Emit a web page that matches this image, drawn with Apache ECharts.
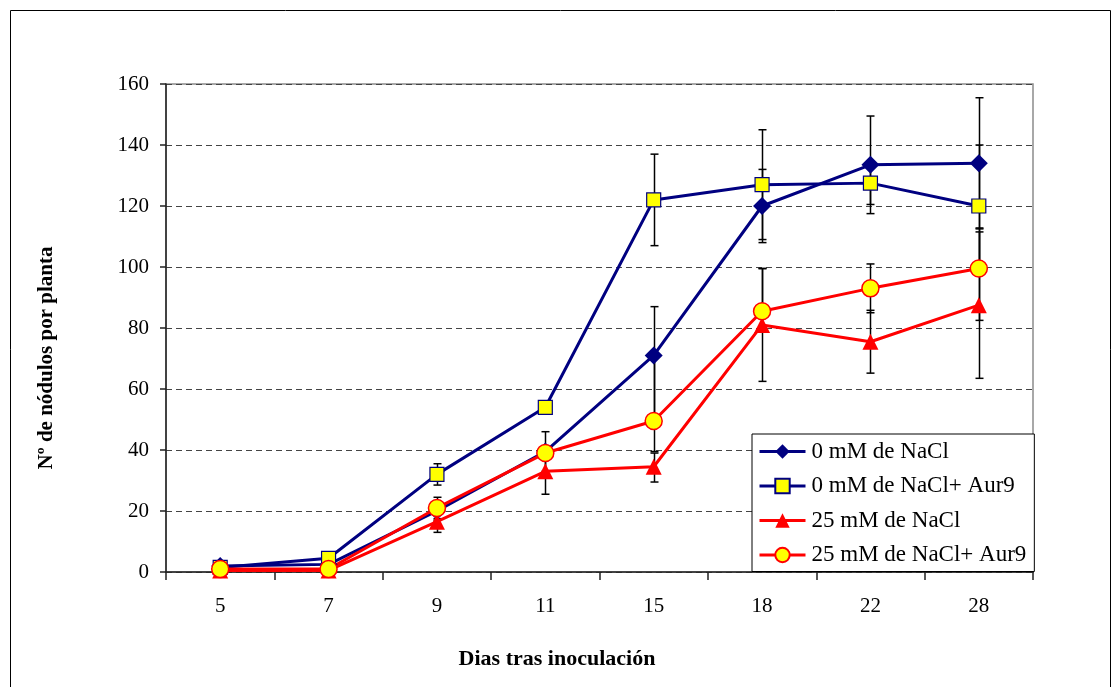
<!DOCTYPE html>
<html>
<head>
<meta charset="utf-8">
<script src="https://cdn.jsdelivr.net/npm/echarts@6/dist/echarts.min.js"></script>
<style>
  html, body { margin: 0; padding: 0; background: #fff; }
  #chart { width: 1114px; height: 687px; }
</style>
</head>
<body>
<div id="chart"></div>
<script>
// Days after inoculation (category axis)
const days = ['5', '7', '9', '11', '15', '18', '22', '28'];

// Mean number of nodules per plant
const nacl0      = [2, 2.5, 20, 39.5, 71, 120, 133.5, 134];
const nacl0Aur9  = [1.5, 4.5, 32, 54, 122, 127, 127.5, 120];
const nacl25     = [0.5, 0.5, 16.5, 33, 34.5, 81, 75.5, 87.5];
const nacl25Aur9 = [1, 1, 21, 39, 49.5, 85.5, 93, 99.5];

// Error bars: extent above (plus) and below (minus) each mean
const nacl0Plus       = [0, 0, 3, 6.5, 16, 12, 16, 21.5];
const nacl0Minus      = [0, 0, 3, 6.5, 21, 12, 16, 21.5];
const nacl0Aur9Plus   = [0, 0, 3.5, 0, 15, 18, 7, 20];
const nacl0Aur9Minus  = [0, 0, 3.5, 0, 15, 18, 7, 20];
const nacl25Plus      = [0, 0, 3.5, 7.5, 4.5, 18.5, 10.3, 24];
const nacl25Minus     = [0, 0, 3.5, 7.5, 5, 18.5, 10.3, 24];
const nacl25Aur9Plus  = [0, 0, 3.5, 0, 21.5, 14, 8, 13.3];
const nacl25Aur9Minus = [0, 0, 3.5, 0, 10, 6.7, 8, 17];

// Series names
const names = ['0 mM de NaCl', '0 mM de NaCl+ Aur9', '25 mM de NaCl', '25 mM de NaCl+ Aur9'];

const FONT = '"Liberation Serif", "Times New Roman", serif';
const NAVY = '#000080';
const RED = '#FF0000';
const YELLOW = '#FFFF00';

function errorBars(id, vals, plus, minus) {
  const data = [];
  vals.forEach((v, i) => {
    if (plus[i] > 0 || minus[i] > 0) data.push([i, v - minus[i], v + plus[i]]);
  });
  return {
    id: id,
    type: 'custom',
    z: 1,
    silent: true,
    encode: { x: 0, y: [1, 2] },
    data: data,
    renderItem: function (params, api) {
      const idx = api.value(0);
      const lo = api.coord([idx, api.value(1)]);
      const hi = api.coord([idx, api.value(2)]);
      const x = Math.round(lo[0]) + 0.5;
      const w = 4;
      const st = { stroke: '#000', lineWidth: 1.5 };
      return {
        type: 'group',
        children: [
          { type: 'line', shape: { x1: x, y1: hi[1], x2: x, y2: lo[1] }, style: st },
          { type: 'line', shape: { x1: x - w, y1: hi[1], x2: x + w, y2: hi[1] }, style: st },
          { type: 'line', shape: { x1: x - w, y1: lo[1], x2: x + w, y2: lo[1] }, style: st }
        ]
      };
    }
  };
}

function lineSeries(name, vals, lineColor, symbol, size, fill, border, bw) {
  return {
    name: name,
    type: 'line',
    z: 3,
    data: vals,
    symbol: symbol,
    symbolSize: size,
    showAllSymbol: true,
    lineStyle: { color: lineColor, width: 3 },
    itemStyle: { color: fill, borderColor: border, borderWidth: bw },
    emphasis: { disabled: true }
  };
}

const chart = echarts.init(document.getElementById('chart'), null, { renderer: 'canvas' });

chart.setOption({
  animation: false,
  backgroundColor: '#fff',
  textStyle: { fontFamily: FONT },
  grid: {
    left: 166, right: 81, top: 84, bottom: 115,
    show: true, borderColor: '#8c8c8c', borderWidth: 1.5, backgroundColor: 'transparent'
  },
  xAxis: {
    type: 'category',
    data: days,
    boundaryGap: true,
    axisLine: { lineStyle: { color: '#222', width: 1.5 } },
    axisTick: { show: true, interval: 0, length: 8, lineStyle: { color: '#222', width: 1.5 } },
    axisLabel: { color: '#000', fontFamily: FONT, fontSize: 21, margin: 24 },
    splitLine: { show: false }
  },
  yAxis: {
    type: 'value',
    min: 0, max: 160, interval: 20,
    axisLine: { show: true, lineStyle: { color: '#222', width: 1.5 } },
    axisTick: { show: true, length: 6, lineStyle: { color: '#222', width: 1.5 } },
    axisLabel: { color: '#000', fontFamily: FONT, fontSize: 21, margin: 17 },
    splitLine: { show: true, lineStyle: { color: '#444', width: 1, type: [6, 4] } }
  },
  legend: {
    data: names,
    orient: 'vertical',
    left: 752, top: 434,
    backgroundColor: '#fff',
    borderColor: '#000',
    borderWidth: 1,
    borderRadius: 0,
    padding: [6, 8, 5, 6],
    itemWidth: 46,
    itemHeight: 18,
    itemGap: 11.5,
    selectedMode: false,
    lineStyle: { width: 3 },
    textStyle: { color: '#000', fontFamily: FONT, fontSize: 23, padding: [0, 0, 0, 1] }
  },
  graphic: [
    {
      type: 'rect', silent: true, z: -10,
      shape: { x: 10.5, y: 10.5, width: 1100, height: 690 },
      style: { fill: 'none', stroke: '#000', lineWidth: 1 }
    },
    {
      type: 'text', silent: true,
      left: 'center', top: 648,
      style: { text: 'Dias tras inoculación', font: 'bold 22px ' + FONT, fill: '#000' }
    },
    {
      type: 'text', silent: true,
      x: 36, y: 358, rotation: Math.PI / 2,
      style: {
        text: 'Nº de nódulos por planta', font: 'bold 21px ' + FONT, fill: '#000',
        align: 'center', verticalAlign: 'top'
      }
    }
  ],
  series: [
    errorBars('eb0', nacl0, nacl0Plus, nacl0Minus),
    errorBars('eb1', nacl0Aur9, nacl0Aur9Plus, nacl0Aur9Minus),
    errorBars('eb2', nacl25, nacl25Plus, nacl25Minus),
    errorBars('eb3', nacl25Aur9, nacl25Aur9Plus, nacl25Aur9Minus),
    lineSeries(names[0], nacl0, NAVY, 'diamond', 18, NAVY, NAVY, 0),
    lineSeries(names[1], nacl0Aur9, NAVY, 'rect', 14, YELLOW, NAVY, 1.2),
    lineSeries(names[2], nacl25, RED, 'triangle', 16, RED, RED, 0),
    lineSeries(names[3], nacl25Aur9, RED, 'circle', 17, YELLOW, RED, 1.5)
  ]
});
</script>
</body>
</html>
